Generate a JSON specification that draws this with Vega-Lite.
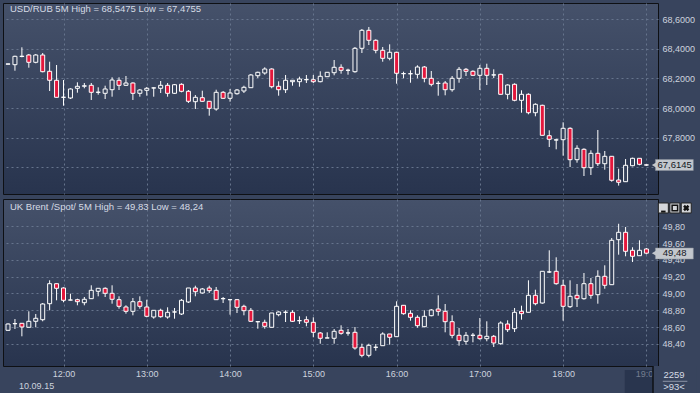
{
"$schema": "https://vega.github.io/schema/vega-lite/v6.json",
"padding": {"left": 2, "top": 2, "right": 0, "bottom": 0},
"background": "#38445d",
"spacing": 3,
"config": {
  "view": {"stroke": "#0e1014", "strokeWidth": 1, "fill": {"gradient": "linear", "x1": 0, "y1": 0, "x2": 0, "y2": 1, "stops": [{"offset": 0, "color": "#45516a"}, {"offset": 1, "color": "#28344e"}]}},
  "font": "Liberation Sans"
},
"datasets": {
"rub": [
{"m":680,"o":68.296,"h":68.300,"l":68.294,"c":68.298},
{"m":685,"o":68.2926,"h":68.3534,"l":68.2520,"c":68.3493},
{"m":690,"o":68.3480,"h":68.4101,"l":68.3426,"c":68.3500},
{"m":695,"o":68.3581,"h":68.3649,"l":68.2723,"c":68.3088},
{"m":700,"o":68.3088,"h":68.3649,"l":68.3020,"c":68.3581},
{"m":705,"o":68.3581,"h":68.3716,"l":68.2412,"c":68.2453},
{"m":710,"o":68.2480,"h":68.3128,"l":68.1149,"c":68.1872},
{"m":715,"o":68.1872,"h":68.2905,"l":68.0710,"c":68.0723},
{"m":720,"o":68.0723,"h":68.1892,"l":68.0155,"c":68.0730},
{"m":725,"o":68.0676,"h":68.1331,"l":68.0608,"c":68.1284},
{"m":730,"o":68.1331,"h":68.1736,"l":68.1034,"c":68.1466},
{"m":735,"o":68.1473,"h":68.1689,"l":68.1331,"c":68.1500},
{"m":740,"o":68.1534,"h":68.1689,"l":68.0541,"c":68.1061},
{"m":745,"o":68.1061,"h":68.1399,"l":68.0899,"c":68.1068},
{"m":750,"o":68.0993,"h":68.1507,"l":68.0608,"c":68.1284},
{"m":755,"o":68.1236,"h":68.2074,"l":68.0764,"c":68.1892},
{"m":760,"o":68.1872,"h":68.2074,"l":68.1216,"c":68.1534},
{"m":765,"o":68.1534,"h":68.2162,"l":68.1507,"c":68.1689},
{"m":770,"o":68.1689,"h":68.1736,"l":68.0541,"c":68.0993},
{"m":775,"o":68.0993,"h":68.1284,"l":68.0764,"c":68.1216},
{"m":780,"o":68.1196,"h":68.1419,"l":68.0831,"c":68.1331},
{"m":785,"o":68.1351,"h":68.1399,"l":68.0764,"c":68.1358},
{"m":790,"o":68.1331,"h":68.1824,"l":68.1014,"c":68.1534},
{"m":795,"o":68.1534,"h":68.1689,"l":68.0764,"c":68.0993},
{"m":800,"o":68.0993,"h":68.1622,"l":68.0946,"c":68.1574},
{"m":805,"o":68.1601,"h":68.1669,"l":68.1061,"c":68.1128},
{"m":810,"o":68.1128,"h":68.1216,"l":68.0338,"c":68.0453},
{"m":815,"o":68.0426,"h":68.0878,"l":67.9932,"c":68.0723},
{"m":820,"o":68.0696,"h":68.1169,"l":68.0426,"c":68.0453},
{"m":825,"o":68.0453,"h":68.0473,"l":67.9480,"c":67.9980},
{"m":830,"o":67.9932,"h":68.1236,"l":67.9818,"c":68.1061},
{"m":835,"o":68.1061,"h":68.1149,"l":68.0608,"c":68.0655},
{"m":840,"o":68.0655,"h":68.1284,"l":68.0426,"c":68.1014},
{"m":845,"o":68.0966,"h":68.1284,"l":68.0899,"c":68.1216},
{"m":850,"o":68.1149,"h":68.1507,"l":68.1014,"c":68.1399},
{"m":855,"o":68.1372,"h":68.2297,"l":68.1372,"c":68.2230},
{"m":860,"o":68.2182,"h":68.2453,"l":68.2027,"c":68.2412},
{"m":865,"o":68.2365,"h":68.2750,"l":68.2250,"c":68.2635},
{"m":870,"o":68.2635,"h":68.2682,"l":68.1331,"c":68.1439},
{"m":875,"o":68.1466,"h":68.1804,"l":68.0831,"c":68.1236},
{"m":880,"o":68.1236,"h":68.2230,"l":68.1014,"c":68.1872},
{"m":885,"o":68.1777,"h":68.1885,"l":68.1507,"c":68.1872},
{"m":890,"o":68.1777,"h":68.2115,"l":68.1439,"c":68.1959},
{"m":895,"o":68.1912,"h":68.2230,"l":68.1689,"c":68.1919},
{"m":900,"o":68.1912,"h":68.2230,"l":68.1689,"c":68.1777},
{"m":905,"o":68.1777,"h":68.2480,"l":68.1736,"c":68.2142},
{"m":910,"o":68.2115,"h":68.2420,"l":68.2100,"c":68.2412},
{"m":915,"o":68.2385,"h":68.3243,"l":68.2209,"c":68.2750},
{"m":920,"o":68.2750,"h":68.2953,"l":68.2318,"c":68.2547},
{"m":925,"o":68.2547,"h":68.2655,"l":68.2250,"c":68.2554},
{"m":930,"o":68.2453,"h":68.4122,"l":68.2385,"c":68.4034},
{"m":935,"o":68.4034,"h":68.5338,"l":68.3716,"c":68.5250},
{"m":940,"o":68.5250,"h":68.5475,"l":68.4257,"c":68.4574},
{"m":945,"o":68.4574,"h":68.4642,"l":68.3696,"c":68.3899},
{"m":950,"o":68.3899,"h":68.4122,"l":68.3128,"c":68.3358},
{"m":955,"o":68.3358,"h":68.4304,"l":68.3223,"c":68.3764},
{"m":960,"o":68.3764,"h":68.3804,"l":68.1642,"c":68.2345},
{"m":965,"o":68.2318,"h":68.2453,"l":68.2007,"c":68.2325},
{"m":970,"o":68.2318,"h":68.2547,"l":68.1709,"c":68.2311},
{"m":975,"o":68.2277,"h":68.2885,"l":68.2007,"c":68.2770},
{"m":980,"o":68.2770,"h":68.2838,"l":68.1736,"c":68.2007},
{"m":985,"o":68.2007,"h":68.2500,"l":68.1466,"c":68.1601},
{"m":990,"o":68.1669,"h":68.1824,"l":68.0831,"c":68.1662},
{"m":995,"o":68.1689,"h":68.1824,"l":68.0858,"c":68.1236},
{"m":1000,"o":68.1236,"h":68.2162,"l":68.1101,"c":68.2007},
{"m":1005,"o":68.2007,"h":68.2770,"l":68.1709,"c":68.2615},
{"m":1010,"o":68.2615,"h":68.2703,"l":68.2162,"c":68.2480},
{"m":1015,"o":68.2480,"h":68.2547,"l":68.2182,"c":68.2209},
{"m":1020,"o":68.2209,"h":68.2905,"l":68.1216,"c":68.2682},
{"m":1025,"o":68.2682,"h":68.2993,"l":68.1554,"c":68.2209},
{"m":1030,"o":68.2230,"h":68.2615,"l":68.2027,"c":68.2237},
{"m":1035,"o":68.2277,"h":68.2318,"l":68.0920,"c":68.0926},
{"m":1040,"o":68.0926,"h":68.1601,"l":68.0588,"c":68.1554},
{"m":1045,"o":68.1601,"h":68.1669,"l":68.0453,"c":68.0520},
{"m":1050,"o":68.0520,"h":68.1196,"l":67.9682,"c":68.0926},
{"m":1055,"o":68.0926,"h":68.0993,"l":67.9574,"c":67.9682},
{"m":1060,"o":67.9682,"h":68.0318,"l":67.9439,"c":68.0250},
{"m":1065,"o":68.0182,"h":68.0223,"l":67.8150,"c":67.8155},
{"m":1070,"o":67.8128,"h":67.8493,"l":67.7365,"c":67.7885},
{"m":1075,"o":67.7838,"h":67.7926,"l":67.7209,"c":67.7845},
{"m":1080,"o":67.7858,"h":67.9034,"l":67.6777,"c":67.8628},
{"m":1085,"o":67.8628,"h":67.8696,"l":67.6014,"c":67.6507},
{"m":1090,"o":67.6507,"h":67.7480,"l":67.6304,"c":67.7277},
{"m":1095,"o":67.7209,"h":67.7277,"l":67.5405,"c":67.5966},
{"m":1100,"o":67.5966,"h":67.7142,"l":67.5473,"c":67.6939},
{"m":1105,"o":67.6939,"h":67.8514,"l":67.6081,"c":67.6236},
{"m":1110,"o":67.6236,"h":67.7095,"l":67.5831,"c":67.6736},
{"m":1115,"o":67.6736,"h":67.6740,"l":67.5020,"c":67.5115},
{"m":1120,"o":67.5135,"h":67.5899,"l":67.4755,"c":67.4980},
{"m":1125,"o":67.5020,"h":67.6554,"l":67.5015,"c":67.6128},
{"m":1130,"o":67.6101,"h":67.6642,"l":67.6061,"c":67.6601},
{"m":1135,"o":67.6601,"h":67.6605,"l":67.6128,"c":67.6196},
{"m":1140,"o":67.6155,"h":67.6190,"l":67.6090,"c":67.6145}
],
"brent": [
{"m":680,"o":48.5619,"h":48.6450,"l":48.5550,"c":48.6369},
{"m":685,"o":48.6400,"h":48.6964,"l":48.5774,"c":48.6420},
{"m":690,"o":48.6452,"h":48.6460,"l":48.4905,"c":48.6012},
{"m":695,"o":48.5976,"h":48.7881,"l":48.5970,"c":48.6690},
{"m":700,"o":48.6690,"h":48.7560,"l":48.5976,"c":48.7048},
{"m":705,"o":48.6881,"h":48.8869,"l":48.6690,"c":48.8750},
{"m":710,"o":48.8786,"h":49.1571,"l":48.8000,"c":49.1167},
{"m":715,"o":49.1167,"h":49.1170,"l":48.9190,"c":49.0619},
{"m":720,"o":49.0655,"h":49.0738,"l":48.8952,"c":48.9190},
{"m":725,"o":48.9220,"h":48.9976,"l":48.9190,"c":48.9226},
{"m":730,"o":48.9262,"h":48.9381,"l":48.8595,"c":48.9024},
{"m":735,"o":48.8905,"h":48.9583,"l":48.8595,"c":48.9310},
{"m":740,"o":48.9381,"h":49.0976,"l":48.9345,"c":49.0381},
{"m":745,"o":49.0262,"h":49.0625,"l":48.9667,"c":49.0619},
{"m":750,"o":49.0619,"h":49.0738,"l":48.9583,"c":49.0024},
{"m":755,"o":49.0024,"h":49.0976,"l":48.8786,"c":48.9310},
{"m":760,"o":48.9262,"h":48.9667,"l":48.8190,"c":48.8476},
{"m":765,"o":48.8393,"h":48.8595,"l":48.7595,"c":48.7881},
{"m":770,"o":48.7881,"h":48.9464,"l":48.7405,"c":48.9024},
{"m":775,"o":48.9024,"h":48.9667,"l":48.8190,"c":48.8476},
{"m":780,"o":48.8393,"h":48.9262,"l":48.7167,"c":48.7286},
{"m":785,"o":48.7202,"h":48.8005,"l":48.7000,"c":48.8000},
{"m":790,"o":48.8000,"h":48.8190,"l":48.7119,"c":48.7238},
{"m":795,"o":48.7202,"h":48.8357,"l":48.7000,"c":48.7762},
{"m":800,"o":48.7798,"h":48.8274,"l":48.7000,"c":48.7805},
{"m":805,"o":48.7560,"h":48.9345,"l":48.7440,"c":48.9190},
{"m":810,"o":48.8988,"h":49.0660,"l":48.8869,"c":49.0655},
{"m":815,"o":49.0655,"h":49.0929,"l":48.9667,"c":49.0214},
{"m":820,"o":49.0060,"h":49.0655,"l":48.9976,"c":49.0536},
{"m":825,"o":49.0655,"h":49.0929,"l":49.0060,"c":49.0333},
{"m":830,"o":49.0381,"h":49.0774,"l":48.9255,"c":48.9262},
{"m":835,"o":48.9381,"h":48.9583,"l":48.8869,"c":48.9388},
{"m":840,"o":48.9262,"h":48.9270,"l":48.7476,"c":48.9269},
{"m":845,"o":48.9262,"h":48.9345,"l":48.7679,"c":48.8357},
{"m":850,"o":48.8476,"h":48.8667,"l":48.7405,"c":48.7952},
{"m":855,"o":48.8000,"h":48.8274,"l":48.6607,"c":48.6690},
{"m":860,"o":48.6643,"h":48.6650,"l":48.5810,"c":48.6640},
{"m":865,"o":48.6571,"h":48.6881,"l":48.5810,"c":48.6095},
{"m":870,"o":48.5976,"h":48.7685,"l":48.5970,"c":48.7679},
{"m":875,"o":48.7476,"h":48.7881,"l":48.7286,"c":48.7798},
{"m":880,"o":48.7762,"h":48.8000,"l":48.6607,"c":48.7769},
{"m":885,"o":48.7762,"h":48.8000,"l":48.6607,"c":48.6690},
{"m":890,"o":48.6762,"h":48.7286,"l":48.6369,"c":48.6769},
{"m":895,"o":48.6881,"h":48.7286,"l":48.6095,"c":48.6571},
{"m":900,"o":48.6571,"h":48.7167,"l":48.4786,"c":48.5381},
{"m":905,"o":48.5298,"h":48.5417,"l":48.4024,"c":48.4667},
{"m":910,"o":48.4702,"h":48.5381,"l":48.4695,"c":48.4709},
{"m":915,"o":48.4667,"h":48.5774,"l":48.4024,"c":48.5500},
{"m":920,"o":48.5619,"h":48.6214,"l":48.5095,"c":48.5262},
{"m":925,"o":48.5298,"h":48.5774,"l":48.4976,"c":48.5305},
{"m":930,"o":48.5381,"h":48.6012,"l":48.3310,"c":48.3512},
{"m":935,"o":48.3595,"h":48.4024,"l":48.2405,"c":48.2643},
{"m":940,"o":48.2643,"h":48.4024,"l":48.2400,"c":48.3833},
{"m":945,"o":48.3595,"h":48.3988,"l":48.3190,"c":48.3602},
{"m":950,"o":48.3786,"h":48.5381,"l":48.3780,"c":48.5179},
{"m":955,"o":48.5179,"h":48.5185,"l":48.3905,"c":48.4786},
{"m":960,"o":48.4857,"h":48.9071,"l":48.4850,"c":48.8476},
{"m":965,"o":48.8595,"h":48.8600,"l":48.7476,"c":48.7595},
{"m":970,"o":48.7643,"h":48.8000,"l":48.6762,"c":48.7167},
{"m":975,"o":48.7167,"h":48.7405,"l":48.5929,"c":48.6167},
{"m":980,"o":48.6048,"h":48.8000,"l":48.5976,"c":48.7286},
{"m":985,"o":48.7357,"h":48.8155,"l":48.7286,"c":48.8036},
{"m":990,"o":48.8155,"h":48.9786,"l":48.7357,"c":48.7881},
{"m":995,"o":48.7881,"h":48.8750,"l":48.5381,"c":48.6643},
{"m":1000,"o":48.6643,"h":48.7405,"l":48.4667,"c":48.5024},
{"m":1005,"o":48.5024,"h":48.5893,"l":48.3786,"c":48.4381},
{"m":1010,"o":48.4310,"h":48.5417,"l":48.3905,"c":48.5024},
{"m":1015,"o":48.5024,"h":48.5298,"l":48.4190,"c":48.5031},
{"m":1020,"o":48.5024,"h":48.7083,"l":48.4500,"c":48.4619},
{"m":1025,"o":48.4619,"h":48.6690,"l":48.4310,"c":48.4905},
{"m":1030,"o":48.4905,"h":48.5060,"l":48.3631,"c":48.4107},
{"m":1035,"o":48.4024,"h":48.6690,"l":48.3905,"c":48.6488},
{"m":1040,"o":48.6369,"h":48.6810,"l":48.5417,"c":48.5690},
{"m":1045,"o":48.5810,"h":48.8274,"l":48.5417,"c":48.7762},
{"m":1050,"o":48.7881,"h":48.8548,"l":48.6881,"c":48.7595},
{"m":1055,"o":48.7762,"h":49.1571,"l":48.7755,"c":48.9786},
{"m":1060,"o":48.9786,"h":49.0452,"l":48.8595,"c":48.8786},
{"m":1065,"o":48.8869,"h":49.2650,"l":48.8786,"c":49.2643},
{"m":1070,"o":49.2560,"h":49.5143,"l":49.2440,"c":49.2567},
{"m":1075,"o":49.2643,"h":49.4310,"l":49.1048,"c":49.1167},
{"m":1080,"o":49.0976,"h":49.1643,"l":48.6762,"c":48.8476},
{"m":1085,"o":48.8429,"h":49.1571,"l":48.8274,"c":48.9667},
{"m":1090,"o":48.9786,"h":49.1131,"l":48.8393,"c":48.9381},
{"m":1095,"o":48.9381,"h":49.2440,"l":48.9262,"c":49.1167},
{"m":1100,"o":49.1167,"h":49.1845,"l":48.9381,"c":48.9786},
{"m":1105,"o":48.9857,"h":49.2762,"l":48.8786,"c":49.2048},
{"m":1110,"o":49.2048,"h":49.3357,"l":49.0571,"c":49.0976},
{"m":1115,"o":49.1048,"h":49.6607,"l":49.1040,"c":49.6333},
{"m":1120,"o":49.6405,"h":49.8300,"l":49.4619,"c":49.7286},
{"m":1125,"o":49.7286,"h":49.7917,"l":49.4429,"c":49.5024},
{"m":1130,"o":49.5143,"h":49.5500,"l":49.3750,"c":49.4429},
{"m":1135,"o":49.4500,"h":49.6333,"l":49.4495,"c":49.5143},
{"m":1140,"o":49.5298,"h":49.5417,"l":49.4667,"c":49.4800}
]
},
"vconcat": [
{
  "width": 655,
  "height": 191,
  "data": {"name": "rub"},
  "layer": [
    {
      "mark": {"type": "rule", "color": "#ffffff", "strokeWidth": 1, "clip": true},
      "encoding": {
        "x": {"field": "m", "type": "quantitative",
              "scale": {"domain": [680, 1144.75], "nice": false, "zero": false},
              "axis": {"values": [720, 780, 840, 900, 960, 1020, 1080, 1140], "tickCount": 30, "grid": true, "gridColor": "#66748d", "gridDash": [2, 3], "labels": false, "ticks": false, "domain": false, "title": null, "minExtent": 0, "maxExtent": 0}},
        "y": {"field": "l", "type": "quantitative",
              "scale": {"domain": [67.4189, 68.7095], "zero": false, "nice": false},
              "axis": {"orient": "right", "values": [67.6, 67.8, 68.0, 68.2, 68.4, 68.6], "tickCount": 30, "labelExpr": "datum.value < 67.7 ? '' : replace(format(datum.value, '.4f'), '.', ',')", "grid": true, "gridColor": "#66748d", "gridDash": [2, 3], "ticks": false, "domain": false, "labelPadding": 4, "labelAlign": "left", "labelBaseline": "middle", "labelFontSize": 9, "labelColor": "#cdd3de", "labelOverlap": false, "title": null, "minExtent": 43, "maxExtent": 43}},
        "y2": {"field": "h"}
      }
    },
    {
      "mark": {"type": "bar", "size": 4, "stroke": "#ffffff", "strokeWidth": 1, "clip": true},
      "encoding": {
        "x": {"field": "m", "type": "quantitative"},
        "y": {"field": "o", "type": "quantitative"},
        "y2": {"field": "c"},
        "color": {"condition": {"test": "datum.c < datum.o", "value": "#e3173c"}, "value": "#37435c"}
      }
    },
    {
      "data": {"values": [{"label": "USD/RUB 5M High = 68,5475 Low = 67,4755"}]},
      "mark": {"type": "text", "fontSize": 9.5, "color": "#d5dbe5", "align": "left", "baseline": "alphabetic"},
      "encoding": {
        "x": {"datum": 681.42, "type": "quantitative"},
        "y": {"datum": 68.6466, "type": "quantitative"},
        "text": {"field": "label", "type": "nominal"}
      }
    },
    {
      "data": {"values": [{"label": "67,6145"}]},
      "mark": {"type": "rect", "color": "#c3c7cd", "stroke": "#8a909a", "strokeWidth": 0.5},
      "encoding": {
        "x": {"datum": 1146.5, "type": "quantitative"},
        "x2": {"datum": 1173.8},
        "y": {"datum": 67.6520, "type": "quantitative"},
        "y2": {"datum": 67.5777}
      }
    },
    {
      "data": {"values": [{"label": "67,6145"}]},
      "mark": {"type": "point", "shape": "triangle-left", "filled": true, "color": "#c3c7cd", "size": 45, "opacity": 1},
      "encoding": {
        "x": {"datum": 1146.0, "type": "quantitative"},
        "y": {"datum": 67.6145, "type": "quantitative"}
      }
    },
    {
      "data": {"values": [{"label": "67,6145"}]},
      "mark": {"type": "text", "fontSize": 9.5, "color": "#15181e", "align": "center", "baseline": "middle"},
      "encoding": {
        "x": {"datum": 1160.4, "type": "quantitative"},
        "y": {"datum": 67.6145, "type": "quantitative"},
        "text": {"field": "label", "type": "nominal"}
      }
    }
  ]
},
{
  "width": 655,
  "height": 167,
  "data": {"name": "brent"},
  "layer": [
    {
      "mark": {"type": "rule", "color": "#ffffff", "strokeWidth": 1, "clip": true},
      "encoding": {
        "x": {"field": "m", "type": "quantitative",
              "scale": {"domain": [680, 1144.75], "nice": false, "zero": false},
              "axis": {"values": [720, 780, 840, 900, 960, 1020, 1080, 1140], "tickCount": 30, "labelExpr": "floor(datum.value / 60) + ':00'", "grid": true, "gridColor": "#66748d", "gridDash": [2, 3], "labels": true, "labelFontSize": 9, "labelColor": "#cdd3de", "labelPadding": 3, "labelFlush": false, "labelOverlap": false, "ticks": false, "domain": false, "title": null, "minExtent": 30, "maxExtent": 30}},
        "y": {"field": "l", "type": "quantitative",
              "scale": {"domain": [48.1369, 50.125], "zero": false, "nice": false},
              "axis": {"orient": "right", "values": [48.4, 48.6, 48.8, 49.0, 49.2, 49.4, 49.6, 49.8], "tickCount": 30, "labelExpr": "replace(format(datum.value, '.2f'), '.', ',')", "grid": true, "gridColor": "#66748d", "gridDash": [2, 3], "ticks": false, "domain": false, "labelPadding": 4, "labelAlign": "left", "labelBaseline": "middle", "labelFontSize": 9, "labelColor": "#cdd3de", "labelOverlap": false, "title": null, "minExtent": 43, "maxExtent": 43}},
        "y2": {"field": "h"}
      }
    },
    {
      "mark": {"type": "bar", "size": 4, "stroke": "#ffffff", "strokeWidth": 1, "clip": true},
      "encoding": {
        "x": {"field": "m", "type": "quantitative"},
        "y": {"field": "o", "type": "quantitative"},
        "y2": {"field": "c"},
        "color": {"condition": {"test": "datum.c < datum.o", "value": "#e3173c"}, "value": "#37435c"}
      }
    },
    {
      "data": {"values": [{"label": "UK Brent /Spot/ 5M High = 49,83 Low = 48,24"}]},
      "mark": {"type": "text", "fontSize": 9.5, "color": "#d5dbe5", "align": "left", "baseline": "alphabetic"},
      "encoding": {
        "x": {"datum": 681.42, "type": "quantitative"},
        "y": {"datum": 49.9905, "type": "quantitative"},
        "text": {"field": "label", "type": "nominal"}
      }
    },
    {
      "data": {"values": [{"label": "49,48"}]},
      "mark": {"type": "rect", "color": "#c3c7cd", "stroke": "#8a909a", "strokeWidth": 0.5},
      "encoding": {
        "x": {"datum": 1146.5, "type": "quantitative"},
        "x2": {"datum": 1173.8},
        "y": {"datum": 49.5417, "type": "quantitative"},
        "y2": {"datum": 49.4107}
      }
    },
    {
      "data": {"values": [{"label": "49,48"}]},
      "mark": {"type": "point", "shape": "triangle-left", "filled": true, "color": "#c3c7cd", "size": 45, "opacity": 1},
      "encoding": {
        "x": {"datum": 1146.0, "type": "quantitative"},
        "y": {"datum": 49.48, "type": "quantitative"}
      }
    },
    {
      "data": {"values": [{"label": "49,48"}]},
      "mark": {"type": "text", "fontSize": 9.5, "color": "#15181e", "align": "center", "baseline": "middle"},
      "encoding": {
        "x": {"datum": 1160.4, "type": "quantitative"},
        "y": {"datum": 49.48, "type": "quantitative"},
        "text": {"field": "label", "type": "nominal"}
      }
    },
    {
      "data": {"values": [{"b": "min"}]},
      "mark": {"type": "point", "shape": "square", "filled": true, "color": "#d4d6da", "stroke": "#222222", "strokeWidth": 1, "size": 100, "opacity": 1},
      "encoding": {
        "x": {"datum": 1152.2, "type": "quantitative"},
        "y": {"datum": 50.0179, "type": "quantitative"}
      }
    },
    {
      "data": {"values": [{"b": "max"}]},
      "mark": {"type": "point", "shape": "square", "filled": true, "color": "#d4d6da", "stroke": "#222222", "strokeWidth": 1, "size": 100, "opacity": 1},
      "encoding": {
        "x": {"datum": 1160.5, "type": "quantitative"},
        "y": {"datum": 50.0179, "type": "quantitative"}
      }
    },
    {
      "data": {"values": [{"b": "close"}]},
      "mark": {"type": "point", "shape": "square", "filled": true, "color": "#d4d6da", "stroke": "#222222", "strokeWidth": 1, "size": 100, "opacity": 1},
      "encoding": {
        "x": {"datum": 1168.7, "type": "quantitative"},
        "y": {"datum": 50.0179, "type": "quantitative"}
      }
    },
    {
      "data": {"values": [{"b": "min"}]},
      "mark": {"type": "rule", "color": "#111111", "strokeWidth": 2},
      "encoding": {
        "x": {"datum": 1150.6, "type": "quantitative"},
        "x2": {"datum": 1153.8},
        "y": {"datum": 49.975, "type": "quantitative"}
      }
    },
    {
      "data": {"values": [{"b": "max"}]},
      "mark": {"type": "point", "shape": "square", "filled": false, "color": "#111111", "strokeWidth": 1.5, "size": 30, "opacity": 1},
      "encoding": {
        "x": {"datum": 1160.5, "type": "quantitative"},
        "y": {"datum": 50.0179, "type": "quantitative"}
      }
    },
    {
      "data": {"values": [{"b": "close"}]},
      "mark": {"type": "point", "shape": "cross", "angle": 45, "filled": true, "color": "#111111", "size": 40, "opacity": 1},
      "encoding": {
        "x": {"datum": 1168.7, "type": "quantitative"},
        "y": {"datum": 50.0179, "type": "quantitative"}
      }
    },
    {
      "data": {"values": [{"b": "cover"}]},
      "mark": {"type": "rect", "color": "#38445d"},
      "encoding": {
        "x": {"datum": 1144.75, "type": "quantitative"},
        "x2": {"datum": 1176},
        "y": {"datum": 48.1369, "type": "quantitative"},
        "y2": {"datum": 47.7798}
      }
    },
    {
      "data": {"values": [{"b": "dim"}]},
      "mark": {"type": "rect", "color": "#1a2540", "opacity": 0.5},
      "encoding": {
        "x": {"datum": 1124.4, "type": "quantitative"},
        "x2": {"datum": 1144.75},
        "y": {"datum": 48.0893, "type": "quantitative"},
        "y2": {"datum": 47.8155}
      }
    },
    {
      "data": {"values": [{"b": "sep"}]},
      "mark": {"type": "rule", "color": "#0e1014", "strokeWidth": 1.5},
      "encoding": {
        "x": {"datum": 1144.75, "type": "quantitative"},
        "y": {"datum": 48.1369, "type": "quantitative"},
        "y2": {"datum": 47.7798}
      }
    },
    {
      "data": {"values": [{"label": "2259"}]},
      "mark": {"type": "text", "fontSize": 9.5, "color": "#d5dbe5", "align": "center", "baseline": "middle"},
      "encoding": {
        "x": {"datum": 1159.9, "type": "quantitative"},
        "y": {"datum": 48.0333, "type": "quantitative"},
        "text": {"field": "label", "type": "nominal"}
      }
    },
    {
      "data": {"values": [{"b": "line"}]},
      "mark": {"type": "rule", "color": "#8d96a8", "strokeWidth": 1},
      "encoding": {
        "x": {"datum": 1151.8, "type": "quantitative"},
        "x2": {"datum": 1169.5},
        "y": {"datum": 47.9548, "type": "quantitative"}
      }
    },
    {
      "data": {"values": [{"label": ">93<"}]},
      "mark": {"type": "text", "fontSize": 9.5, "color": "#d5dbe5", "align": "center", "baseline": "middle"},
      "encoding": {
        "x": {"datum": 1159.9, "type": "quantitative"},
        "y": {"datum": 47.8869, "type": "quantitative"},
        "text": {"field": "label", "type": "nominal"}
      }
    },
    {
      "data": {"values": [{"label": "10.09.15"}]},
      "mark": {"type": "text", "fontSize": 9, "color": "#cdd3de", "align": "left", "baseline": "alphabetic"},
      "encoding": {
        "x": {"datum": 688.0, "type": "quantitative"},
        "y": {"datum": 47.869, "type": "quantitative"},
        "text": {"field": "label", "type": "nominal"}
      }
    }
  ]
}
]
}
